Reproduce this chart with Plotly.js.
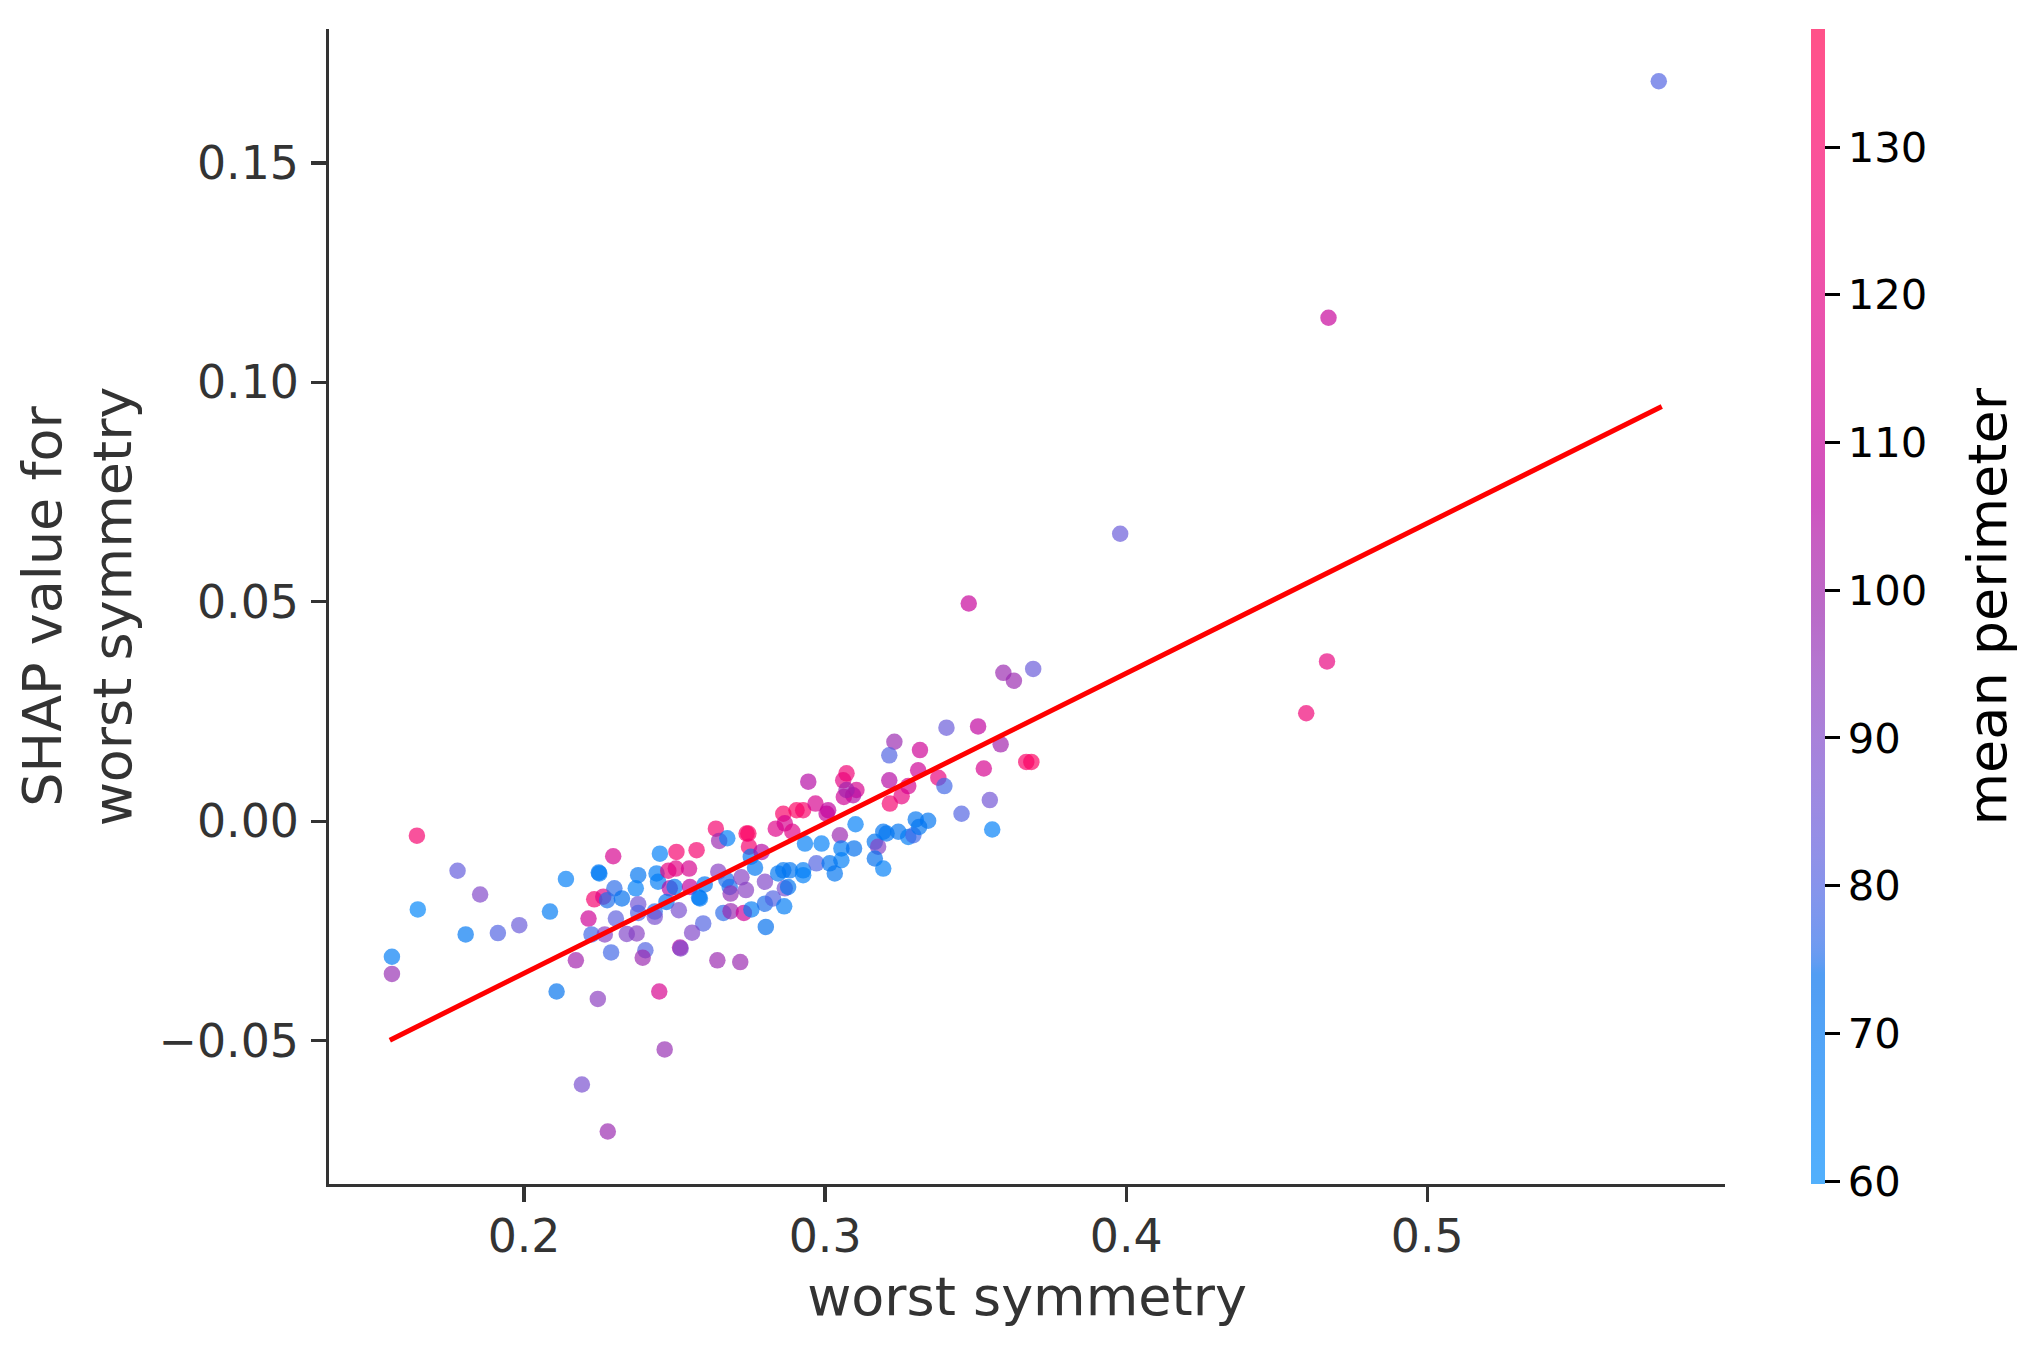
<!DOCTYPE html>
<html><head><meta charset="utf-8">
<script src="https://cdn.plot.ly/plotly-3.0.1.min.js"></script>
<style>html,body{margin:0;padding:0;background:#fff}</style>
</head><body><div id="chart" style="width:2040px;height:1357px"></div>
<script>
// ---- data ----
const worstSymmetry = [
 0.1644,0.1779,0.1854,0.1647,0.1806,0.1913,0.1984,0.1561,0.1561,0.2139,
 0.2086,0.2108,0.2248,0.2250,0.2296,0.2233,0.2263,0.2276,0.2300,0.2325,
 0.2214,0.2305,0.2224,0.2268,0.2341,0.2374,0.2289,0.2172,0.2403,0.2394,
 0.2518,0.2520,0.2642,0.2718,0.2449,0.2245,0.2467,0.2192,0.2278,0.2379,
 0.2371,0.2379,0.2379,0.2434,0.2434,0.2451,0.2440,0.2445,0.2479,0.2506,
 0.2504,0.2484,0.2500,0.2473,0.2514,0.2548,0.2573,0.2551,0.2581,0.2584,
 0.2600,0.2595,0.2558,0.2637,0.2648,0.2675,0.2645,0.2672,0.2683,0.2686,
 0.2722,0.2737,0.2662,0.2686,0.2730,0.2755,0.2739,0.2745,0.2747,0.2753,
 0.2767,0.2789,0.2800,0.2800,0.2803,0.2827,0.2836,0.2844,0.2861,0.2866,
 0.2864,0.2877,0.2883,0.2861,0.2866,0.2891,0.2905,0.2927,0.2944,0.2968,
 0.2933,0.2927,0.2927,0.2971,
 0.3403,0.3508,0.3583,0.3230,0.3213,0.3315,0.3309,0.3213,0.3215,0.3254,
 0.3276,0.3376,0.3396,0.3527,0.3547,0.3453,0.3555,0.3668,0.3685,0.3060,
 0.3071,0.3104,0.3093,0.3062,0.3071,0.3010,0.3005,0.3049,0.3101,0.2988,
 0.3054,0.3096,0.3054,0.3032,0.3015,0.3165,0.3176,0.3193,0.3204,0.3243,
 0.3276,0.3293,0.3301,0.3312,0.3342,0.3165,0.3193,
 0.3477,0.3592,0.3627,0.3691,
 0.5769,0.4672,0.3980,0.4598,0.4667
];
const shapValue = [
 -0.0033,-0.0113,-0.0167,-0.0201,-0.0258,-0.0255,-0.0237,-0.0309,-0.0348,-0.0132,
 -0.0206,-0.0388,-0.0117,-0.0119,-0.0080,-0.0178,-0.0172,-0.0180,-0.0153,-0.0176,
 -0.0222,-0.0222,-0.0258,-0.0258,-0.0257,-0.0256,-0.0299,-0.0317,-0.0294,-0.0311,
 -0.0288,-0.0290,-0.0317,-0.0321,-0.0388,-0.0405,-0.0520,-0.0600,-0.0707,-0.0123,
 -0.0153,-0.0189,-0.0209,-0.0206,-0.0218,-0.0074,-0.0119,-0.0138,-0.0113,-0.0070,
 -0.0108,-0.0153,-0.0150,-0.0184,-0.0203,-0.0108,-0.0066,-0.0150,-0.0174,-0.0176,
 -0.0144,-0.0233,-0.0254,-0.0017,-0.0045,-0.0039,-0.0115,-0.0134,-0.0150,-0.0165,
 -0.0128,-0.0157,-0.0209,-0.0205,-0.0209,-0.0201,-0.0028,-0.0028,-0.0058,-0.0081,
 -0.0106,-0.0070,-0.0138,-0.0188,-0.0241,-0.0176,-0.0017,-0.0119,-0.0112,-0.0153,
 -0.0194,-0.0150,-0.0112,0.0017,-0.0005,-0.0024,0.0025,0.0025,0.0090,0.0040,
 -0.0051,-0.0112,-0.0123,-0.0096,
 0.0213,0.0216,0.0175,0.0181,0.0150,0.0162,0.0116,0.0093,0.0040,0.0057,
 0.0080,0.0099,0.0080,0.0120,0.0048,0.0017,-0.0019,0.0135,0.0135,0.0093,
 0.0109,0.0071,0.0059,0.0055,0.0071,0.0025,0.0017,-0.0032,-0.0007,-0.0051,
 -0.0062,-0.0062,-0.0089,-0.0119,-0.0096,-0.0047,-0.0058,-0.0024,-0.0028,-0.0024,
 -0.0036,-0.0032,0.0004,-0.0013,0.0001,-0.0085,-0.0108,
 0.0496,0.0338,0.0320,0.0347,
 0.1686,0.1147,0.0655,0.0246,0.0364
];
const meanPerimeter = [
 128,83,90,63,70,80,84,68,97,67,
 69,73,70,68,115,128,120,75,76,74,
 112,82,78,92,90,92,78,100,80,98,
 105,90,98,98,115,93,97,88,98,72,
 66,86,80,76,88,66,68,68,122,128,
 120,105,72,74,88,115,128,108,70,68,
 72,80,90,128,98,66,92,75,75,96,
 92,92,76,98,112,68,130,132,128,72,
 70,105,90,75,74,80,118,70,70,88,
 68,72,72,130,115,118,132,130,105,115,
 67,68,66,80,
 84,108,100,98,80,112,112,105,128,122,
 115,122,78,115,86,80,66,130,132,120,
 125,115,105,112,100,108,110,98,66,66,
 68,74,67,72,72,72,92,72,72,72,
 68,78,72,72,72,74,66,
 110,98,98,84,
 80,110,84,125,122
];
const fitLineX = [0.1554, 0.5779];
const fitLineY = [-0.0499, 0.0945];
const xTickVals = [0.2, 0.3, 0.4, 0.5];
const xTickText = ['0.2', '0.3', '0.4', '0.5'];
const yTickVals = [-0.05, 0.00, 0.05, 0.10, 0.15];
const yTickText = ['\u22120.05', '0.00', '0.05', '0.10', '0.15'];
const cbTickVals = [60, 70, 80, 90, 100, 110, 120, 130];
const cbTickText = ['60', '70', '80', '90', '100', '110', '120', '130'];
const colorMin = 59.8, colorMax = 138.0;
const colorLabel = 'mean perimeter';

// ---- SHAP red_blue colormap (LCh interpolation) ----
function lch2rgb(L, C, H) {
  const a = C * Math.cos(H), b = C * Math.sin(H);
  const fy = (L + 16) / 116, fx = fy + a / 500, fz = fy - b / 200;
  const d = 6 / 29;
  const finv = t => t > d ? t * t * t : 3 * d * d * (t - 4 / 29);
  const X = 0.95047 * finv(fx), Y = finv(fy), Z = 1.08883 * finv(fz);
  let r = 3.2404542 * X - 1.5371385 * Y - 0.4985314 * Z;
  let g = -0.9692660 * X + 1.8760108 * Y + 0.0415560 * Z;
  let bb = 0.0556434 * X - 0.2040259 * Y + 1.0572252 * Z;
  const gam = u => u <= 0.0031308 ? 12.92 * u : 1.055 * Math.pow(u, 1 / 2.4) - 0.055;
  return [r, g, bb].map(v => Math.min(1, Math.max(0, gam(v))));
}
const ALPHA = 0.68;
const nsteps = 100;
const hBlue = 4.6588, hRed = 0.35470565 + 2 * Math.PI;
const scaleDots = [], scaleBar = [];
for (let i = 0; i < nsteps; i++) {
  const pos = i / (nsteps - 1);
  const l = i < 50 ? 54 + (40 - 54) * i / 49 : 40 + (54 - 40) * (i - 50) / 49;
  const c = 70 + (90 - 70) * pos;
  const h = hBlue + (hRed - hBlue) * pos;
  const rgb = lch2rgb(l, c, h);
  const s = rgb.map(v => Math.round(v * 255));
  const w = rgb.map(v => Math.round((ALPHA * v + (1 - ALPHA)) * 255));
  scaleDots.push([pos, `rgb(${s[0]},${s[1]},${s[2]})`]);
  scaleBar.push([pos, `rgb(${w[0]},${w[1]},${w[2]})`]);
}

const FONT = 'DejaVu Sans';
const traces = [
  {
    type: 'scatter', mode: 'markers', x: worstSymmetry, y: shapValue,
    marker: { color: meanPerimeter, colorscale: scaleDots, cmin: colorMin, cmax: colorMax,
              size: 16.5, opacity: ALPHA, line: { width: 0 }, showscale: false },
    hoverinfo: 'skip', showlegend: false
  },
  {
    type: 'scatter', mode: 'markers', x: [null, null], y: [null, null],
    marker: { color: [colorMin, colorMax], colorscale: scaleBar, cmin: colorMin, cmax: colorMax,
              size: 1, showscale: true,
              colorbar: {
                x: 1.0616, xanchor: 'left', xpad: 0,
                y: 0, yanchor: 'bottom', ypad: 0, len: 1, lenmode: 'fraction',
                thickness: 14, thicknessmode: 'pixels', outlinewidth: 0,
                tickvals: cbTickVals, ticktext: cbTickText,
                ticks: 'outside', ticklen: 15, tickwidth: 3, tickcolor: '#000',
                tickfont: { family: FONT, size: 41.7, color: '#000' },
                title: { text: '' }
              } },
    hoverinfo: 'skip', showlegend: false
  },
  {
    type: 'scatter', mode: 'lines', x: fitLineX, y: fitLineY,
    line: { color: '#ff0000', width: 5 }, hoverinfo: 'skip', showlegend: false
  }
];

const layout = {
  width: 2040, height: 1357,
  margin: { l: 329, r: 315, t: 29, b: 173 },
  paper_bgcolor: '#fff', plot_bgcolor: '#fff',
  font: { family: FONT, color: '#333333' },
  showlegend: false,
  xaxis: {
    range: [0.1352, 0.5989], showgrid: false, zeroline: false,
    showline: true, linecolor: '#333333', linewidth: 3.3, mirror: false,
    ticks: 'outside', ticklen: 14.6, tickwidth: 3.3, tickcolor: '#333333',
    tickvals: xTickVals, ticktext: xTickText, ticklabelstandoff: -5,
    tickfont: { family: FONT, size: 45.8, color: '#333333' },
    title: { text: 'worst symmetry', font: { family: FONT, size: 54, color: '#333333' }, standoff: 16 }
  },
  yaxis: {
    range: [-0.08267, 0.1805], showgrid: false, zeroline: false,
    showline: true, linecolor: '#333333', linewidth: 3.3, mirror: false,
    ticks: 'outside', ticklen: 14.6, tickwidth: 3.3, tickcolor: '#333333',
    tickvals: yTickVals, ticktext: yTickText, ticklabelstandoff: 3,
    tickfont: { family: FONT, size: 45.8, color: '#333333' },
    title: { text: 'SHAP value for<br>worst symmetry', font: { family: FONT, size: 54, color: '#333333' }, standoff: 10 }
  },
  annotations: [{
    text: colorLabel, textangle: -90, showarrow: false,
    xref: 'paper', yref: 'paper', x: (1987 - 329) / 1396, y: 0.5,
    xanchor: 'center', yanchor: 'middle',
    font: { family: FONT, size: 54, color: '#000' }
  }]
};

Plotly.newPlot('chart', traces, layout, { displayModeBar: false, staticPlot: true });
</script></body></html>
